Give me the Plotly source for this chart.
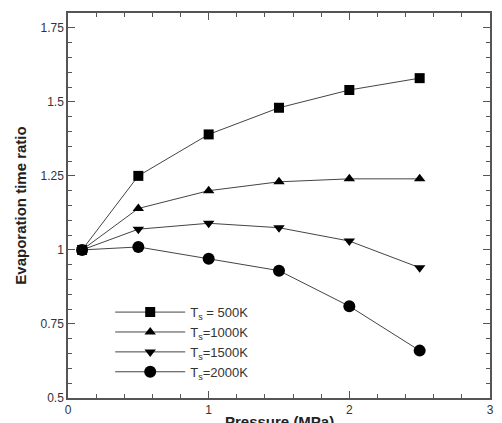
import plotly.graph_objects as go

pressure = [0.1, 0.5, 1.0, 1.5, 2.0, 2.5]
ratio_500 = [1.0, 1.25, 1.39, 1.48, 1.54, 1.58]
ratio_1000 = [1.0, 1.14, 1.20, 1.23, 1.24, 1.24]
ratio_1500 = [1.0, 1.07, 1.09, 1.075, 1.03, 0.94]
ratio_2000 = [1.0, 1.01, 0.97, 0.93, 0.81, 0.66]
names = ["T<sub>s</sub> = 500K", "T<sub>s</sub>=1000K", "T<sub>s</sub>=1500K", "T<sub>s</sub>=2000K"]
symbols = ["square", "triangle-up", "triangle-down", "circle"]
sizes = [10, 10, 10, 12]

fig = go.Figure()
for ys, nm, sym, sz in zip([ratio_500, ratio_1000, ratio_1500, ratio_2000], names, symbols, sizes):
    fig.add_trace(go.Scatter(
        x=pressure, y=ys, name=nm, mode="lines+markers",
        line=dict(color="#444444", width=1),
        marker=dict(symbol=sym, size=sz, color="black"),
    ))

axis_common = dict(
    showline=True, linecolor="#555555", linewidth=1.5, mirror="ticks",
    ticks="inside", ticklen=7, tickcolor="#555555", tickwidth=1.2,
    showgrid=False, zeroline=False, automargin=False,
    tickfont=dict(family="Liberation Sans, Arial", size=12, color="#333333"),
)
fig.update_xaxes(range=[0, 3], tickvals=[0, 1, 2, 3], ticktext=["0", "1", "2", "3"],
                 minor=dict(dtick=0.2, ticks="inside", ticklen=4, tickcolor="#555555"),
                 **axis_common)
fig.update_yaxes(range=[0.5, 1.8], tickvals=[0.5, 0.75, 1, 1.25, 1.5, 1.75],
                 ticktext=["0.5", "0.75", "1", "1.25", "1.5", "1.75"],
                 minor=dict(dtick=0.05, ticks="inside", ticklen=4, tickcolor="#555555"),
                 title=dict(text="<b>Evaporation time ratio</b>", standoff=10,
                            font=dict(family="Liberation Sans, Arial", size=15, color="#222222")),
                 **axis_common)
fig.add_annotation(text="<b>Pressure (MPa)</b>", xref="paper", yref="paper",
                   x=0.5, y=-0.034, xanchor="center", yanchor="top", showarrow=False,
                   font=dict(family="Liberation Sans, Arial", size=15, color="#222222"))
fig.update_layout(
    width=502, height=423,
    margin=dict(l=68, r=12, t=13, b=25),
    paper_bgcolor="white", plot_bgcolor="white",
    showlegend=True,
    legend=dict(x=0.1, y=0.262, xanchor="left", yanchor="top",
                bgcolor="rgba(0,0,0,0)", itemwidth=70, tracegroupgap=0,
                font=dict(family="Liberation Sans, Arial", size=13, color="#333333")),
)
fig.write_html("out.html")
